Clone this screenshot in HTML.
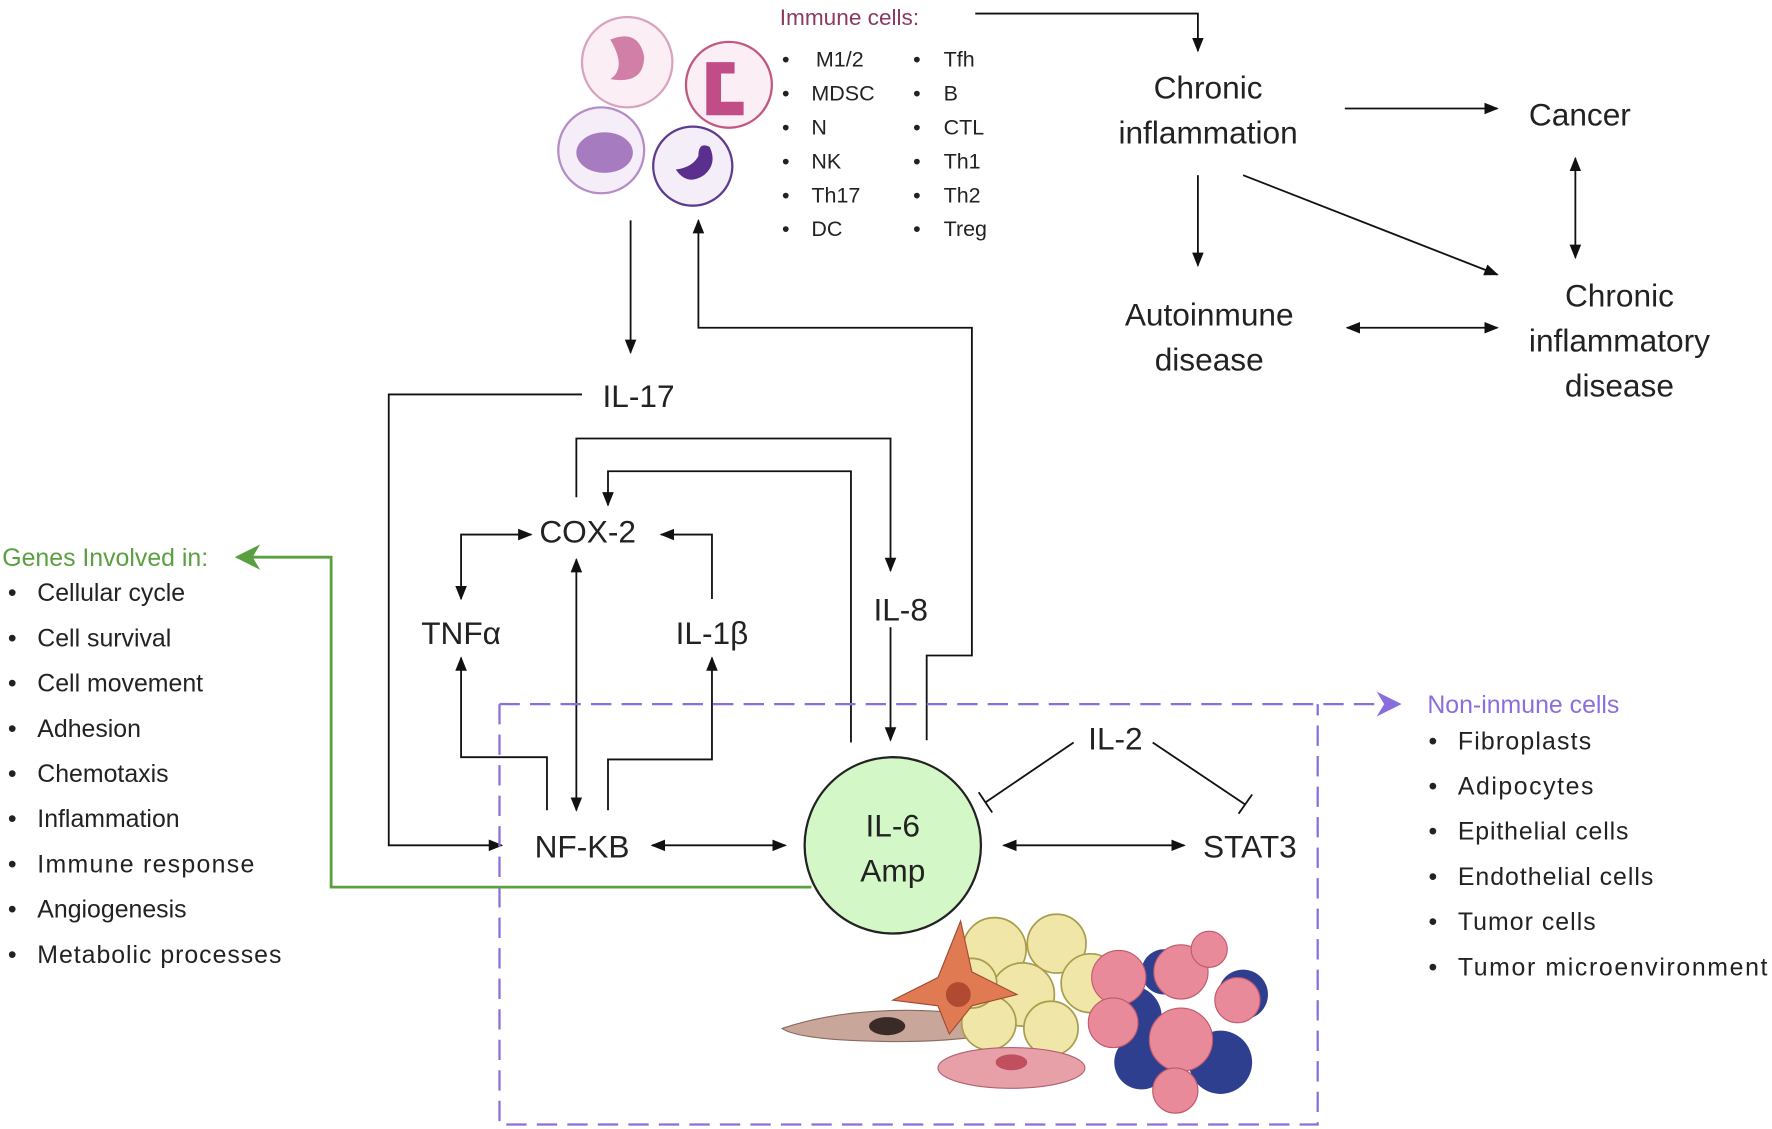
<!DOCTYPE html>
<html><head><meta charset="utf-8"><style>
html,body{margin:0;padding:0;background:#fff}
svg{display:block}
text{font-family:"Liberation Sans",sans-serif;fill:#222}
</style></head><body>
<svg width="1772" height="1129" viewBox="0 0 1568 999" xmlns="http://www.w3.org/2000/svg">
<defs>
<marker id="a" viewBox="0 0 10 10" refX="9" refY="5" markerWidth="8" markerHeight="8" orient="auto-start-reverse"><path d="M0,1 L10,5 L0,9 z" fill="#111"/></marker>
<marker id="g" viewBox="0 0 10 10" refX="9" refY="5" markerWidth="9" markerHeight="9" orient="auto"><path d="M0,0 L10,5 L0,10 L3,5 z" fill="#5aa040"/></marker>
<marker id="p" viewBox="0 0 10 10" refX="9" refY="5" markerWidth="11" markerHeight="11" orient="auto"><path d="M0,0 L10,5 L0,10 L3,5 z" fill="#8a6fdc"/></marker>
</defs>
<circle cx="555" cy="55" r="40" fill="#fbeef4" stroke="#d9a3c0" stroke-width="2"/>
<path d="M540,35 q25,-10 30,15 q0,25 -30,20 q15,-10 0,-35z" fill="#d27fa8"/>
<circle cx="645" cy="75" r="38" fill="#fbeef4" stroke="#c2577f" stroke-width="2"/>
<path d="M625,55 h25 v10 h-12 v25 h20 v12 h-33z" fill="#c24c85"/>
<circle cx="532" cy="133" r="38" fill="#f5eef8" stroke="#b58bc8" stroke-width="2"/>
<ellipse cx="535" cy="135" rx="25" ry="18" fill="#a77bbf"/>
<circle cx="613" cy="147" r="35" fill="#f3eef8" stroke="#5d3b8e" stroke-width="2"/>
<path d="M598,150 q10,15 25,5 q12,-10 5,-25 q-10,-5 -10,8 q-5,10 -20,12z" fill="#5b2f8e"/>
<text x="690" y="22" font-size="20" style="fill:#8b3a62">Immune cells:</text>
<g font-size="19">
<text x="722" y="59">M1/2</text><text x="718" y="89">MDSC</text><text x="718" y="119">N</text><text x="718" y="149">NK</text><text x="718" y="179">Th17</text><text x="718" y="209">DC</text>
<text x="835" y="59">Tfh</text><text x="835" y="89">B</text><text x="835" y="119">CTL</text><text x="835" y="149">Th1</text><text x="835" y="179">Th2</text><text x="835" y="209">Treg</text>
<text x="692" y="59">•</text><text x="692" y="89">•</text><text x="692" y="119">•</text><text x="692" y="149">•</text><text x="692" y="179">•</text><text x="692" y="209">•</text>
<text x="808" y="59">•</text><text x="808" y="89">•</text><text x="808" y="119">•</text><text x="808" y="149">•</text><text x="808" y="179">•</text><text x="808" y="209">•</text>
</g>
<g stroke="#111" stroke-width="1.6" fill="none" marker-end="url(#a)">
<path d="M863,12 H1060 V45"/>
<path d="M1190,96 H1325"/>
<path d="M1060,155 V235"/>
<path d="M1100,155 L1325,243"/>
<path d="M1394,228 V140" marker-start="url(#a)"/>
<path d="M1192,290 H1325" marker-start="url(#a)"/>
<path d="M558,195 V312"/>
<path d="M820,655 V580 H860 V290 H618 V195"/>
<path d="M515,349 H344 V748 H444"/>
<path d="M510,440 V388 H788 V505"/>
<path d="M753,657 V417 H538 V447"/>
<path d="M408,530 V473 H470" marker-start="url(#a)"/>
<path d="M630,530 V473 H585"/>
<path d="M510,717 V495" marker-start="url(#a)"/>
<path d="M484,717 V670 H408 V582"/>
<path d="M538,717 V672 H630 V582"/>
<path d="M788,555 V655"/>
<path d="M577,748 H695" marker-start="url(#a)"/>
<path d="M888,748 H1048" marker-start="url(#a)"/>
</g>
<g stroke="#111" stroke-width="1.6">
<line x1="950" y1="657" x2="872" y2="710"/><line x1="866" y1="701" x2="878" y2="719"/>
<line x1="1020" y1="657" x2="1102" y2="712"/><line x1="1096" y1="720" x2="1108" y2="703"/>
</g>
<g font-size="28" text-anchor="middle">
<text x="1069" y="87">Chronic</text><text x="1069" y="127">inflammation</text>
<text x="1398" y="111">Cancer</text>
<text x="1070" y="288">Autoinmune</text><text x="1070" y="328">disease</text>
<text x="1433" y="271">Chronic</text><text x="1433" y="311">inflammatory</text><text x="1433" y="351">disease</text>
<text x="565" y="360">IL-17</text>
<text x="520" y="480">COX-2</text>
<text x="408" y="570">TNFα</text><text x="630" y="570">IL-1β</text>
<text x="797" y="549">IL-8</text>
<text x="515" y="759">NF-KB</text>
<text x="987" y="663">IL-2</text>
<text x="1106" y="759">STAT3</text>
</g>
<g stroke="#8a6fdc" stroke-width="2" stroke-dasharray="18,9" fill="none">
<path d="M442,623 V995 H1166 V623"/>
<path d="M442,623 H1238" marker-end="url(#p)"/>
</g>
<text x="1263" y="631" font-size="22" style="fill:#8a6fdc">Non-inmune cells</text>
<g font-size="22">
<text x="1290" y="663" textLength="118">Fibroplasts</text><text x="1290" y="703" textLength="120">Adipocytes</text><text x="1290" y="743" textLength="151">Epithelial cells</text><text x="1290" y="783" textLength="173">Endothelial cells</text><text x="1290" y="823" textLength="122">Tumor cells</text><text x="1290" y="863" textLength="274">Tumor microenvironment</text>
<text x="1264" y="663">•</text><text x="1264" y="703">•</text><text x="1264" y="743">•</text><text x="1264" y="783">•</text><text x="1264" y="823">•</text><text x="1264" y="863">•</text>
</g>
<path d="M718,785 H293 V493 H210" stroke="#5aa040" stroke-width="2.5" fill="none" marker-end="url(#g)"/>
<text x="2" y="501" font-size="22" style="fill:#5aa040">Genes Involved in:</text>
<g font-size="22">
<text x="33" y="532">Cellular cycle</text><text x="33" y="572">Cell survival</text><text x="33" y="612">Cell movement</text><text x="33" y="652">Adhesion</text><text x="33" y="692">Chemotaxis</text><text x="33" y="732">Inflammation</text><text x="33" y="772" textLength="192">Immune response</text><text x="33" y="812">Angiogenesis</text><text x="33" y="852" textLength="216">Metabolic processes</text>
<text x="7" y="532">•</text><text x="7" y="572">•</text><text x="7" y="612">•</text><text x="7" y="652">•</text><text x="7" y="692">•</text><text x="7" y="732">•</text><text x="7" y="772">•</text><text x="7" y="812">•</text><text x="7" y="852">•</text>
</g>
<circle cx="790" cy="748" r="78" fill="#d4f7c8" stroke="#222" stroke-width="2"/>
<text x="790" y="740" font-size="28" text-anchor="middle">IL-6</text>
<text x="790" y="780" font-size="28" text-anchor="middle">Amp</text>
<path d="M692,910 q60,-20 140,-15 q40,10 50,20 q-60,10 -140,5 q-40,-3 -50,-10z" fill="#c9a69a" stroke="#8a6a60"/>
<ellipse cx="785" cy="908" rx="16" ry="8" fill="#3b2b28"/>
<g fill="#efe6a8" stroke="#a99c4a" stroke-width="1.5">
<circle cx="880" cy="840" r="28"/><circle cx="935" cy="835" r="26"/><circle cx="965" cy="870" r="26"/><circle cx="905" cy="880" r="28"/><circle cx="875" cy="905" r="24"/><circle cx="930" cy="910" r="24"/><circle cx="860" cy="870" r="22"/>
</g>
<path d="M850,815 l10,45 l40,20 l-40,10 l-20,25 l-10,-25 l-40,-5 l40,-20z" fill="#e07a52" stroke="#a04a30"/>
<circle cx="848" cy="880" r="11" fill="#b04a30"/>
<ellipse cx="895" cy="945" rx="65" ry="18" fill="#e8a0a8" stroke="#b06070"/>
<ellipse cx="895" cy="940" rx="14" ry="7" fill="#c0505e"/>
<g fill="#2e3f8f">
<circle cx="1000" cy="900" r="28"/><circle cx="1080" cy="940" r="28"/><circle cx="1010" cy="940" r="24"/><circle cx="1100" cy="880" r="22"/><circle cx="1030" cy="860" r="20"/>
</g>
<g fill="#e88a9a" stroke="#c05a6a">
<circle cx="990" cy="865" r="24"/><circle cx="1045" cy="860" r="24"/><circle cx="1095" cy="885" r="20"/><circle cx="1045" cy="920" r="28"/><circle cx="985" cy="905" r="22"/><circle cx="1040" cy="965" r="20"/><circle cx="1070" cy="840" r="16"/>
</g>
</svg>
</body></html>
